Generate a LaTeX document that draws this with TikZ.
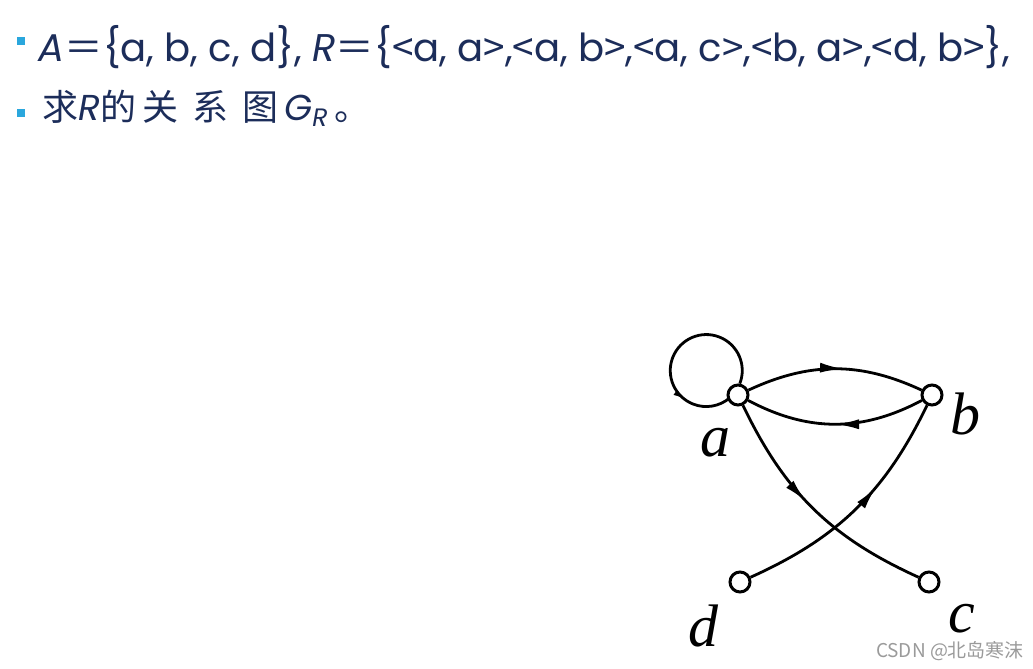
\documentclass[tikz,border=0pt]{standalone}
\usepackage{fontspec}
\setmainfont{Poppins}
\newfontfamily\cjk{Noto Sans CJK SC}
\newfontfamily\lblfont{Liberation Serif}
\usetikzlibrary{arrows.meta, decorations.markings, positioning}
\definecolor{navy}{HTML}{1C2D5A}
\definecolor{bulletblue}{HTML}{2AA7DD}
\definecolor{markgray}{HTML}{9A9A9A}
\newcommand{\opn}{{\cjk <}}
\newcommand{\cls}{{\cjk >}}

\tikzset{
	vertex/.style={circle, draw, line width=1.5pt, minimum size=10pt, inner sep=0pt, fill=white},
	rel/.style={line width=1.4pt},
	midarrow/.style={postaction={decorate},
		decoration={markings, mark=at position #1 with {\arrow{Latex[length=12pt,width=5pt]}}}},
	looparrow/.style={postaction={decorate},
		decoration={markings, mark=at position #1 with {\arrow{Latex[length=6pt,width=3pt]}}}},
	vlabel/.style={font=\lblfont\itshape\fontsize{30}{30}\selectfont, inner sep=0pt, anchor=base},
	textline/.style={font=\fontsize{19.3}{20}\selectfont, text=navy, inner sep=0pt, anchor=base west},
	bulletsq/.style={fill=bulletblue, minimum size=3.75pt, inner sep=0pt}
}

\begin{document}
\begin{tikzpicture}[x=0.5pt, y=0.5pt]
	\useasboundingbox (0,0) rectangle (1033,669);
	
	%% Texto
	\node [bulletsq] (b1) at (21,628) {};
	\node [textline] (l1) at (38,607)
	{\textit{A}{\cjk ＝}\{a, b, c, d\}, \textit{R}{\cjk ＝}\{\opn a, a\cls,\opn a, b\cls,\opn a, c\cls,\opn b, a\cls,\opn d, b\cls\},};
	
	\node [bulletsq] (b2) at (21,556) {};
	\node [textline, font=\fontsize{18}{20}\selectfont] (l2) at (42,548)
	{{\cjk 求}\textit{R}{\cjk 的\hspace{3pt}关\hspace{7pt}系\hspace{7pt}图}\hspace{3pt}\textit{G}\textsubscript{\textit{R}}\hspace{3pt}{\cjk 。}};
	
	%% Vértices
	\node [vertex] (a) at (738,274) {};
	\node [vertex] (b) at (932,274) {};
	\node [vertex] (c) at (929,87) {};
	\node [vertex] (d) at (740,87) {};
	
	\node [vlabel] (la) at (715,212) {a};
	\node [vlabel] (lb) at (965,234) {b};
	\node [vlabel] (lc) at (962,36) {c};
	\node [vlabel] (ld) at (703,22) {d};
	
	%% Arcos
	\draw [rel, looparrow=0.77] (a.81) arc [start angle=-21.3, end angle=309.9, radius=36];
	
	\draw [rel, midarrow=0.55] (a) to [bend left=25] (b);
	
	\draw [rel, midarrow=0.5] (b) to [bend left=28] (a);
	
	\draw [rel, midarrow=0.46] (a) to [bend right=20] (c);
	
	\draw [rel, midarrow=0.62] (d) to [bend right=20] (b);
	
	%% Marca
	\node [font=\cjk\fontsize{9.5}{10}\selectfont, text=markgray, inner sep=0pt] (wm) at (950,18) {CSDN @北岛寒沫};
	
\end{tikzpicture}
\end{document}
